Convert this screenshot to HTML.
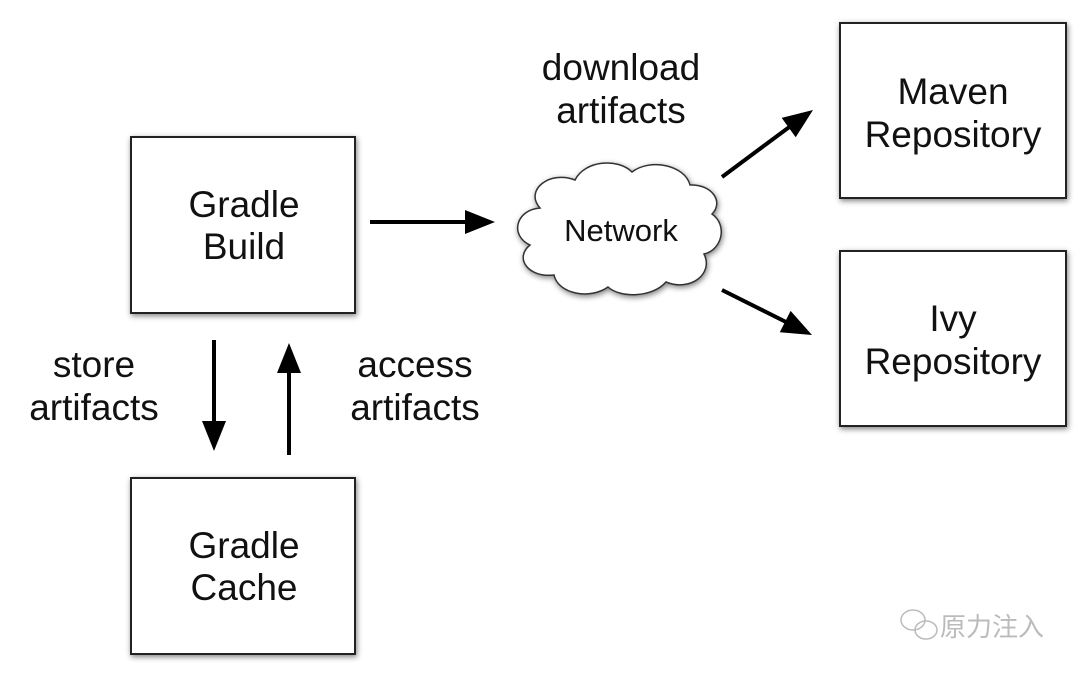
<!DOCTYPE html>
<html><head><meta charset="utf-8"><style>
body{margin:0;background:#fff;width:1080px;height:674px;overflow:hidden;font-family:"Liberation Sans",sans-serif}
</style></head><body>
<svg width="1080" height="674" xmlns="http://www.w3.org/2000/svg" font-family="Liberation Sans, sans-serif">
<defs>
<filter id="sh" x="-20%" y="-20%" width="140%" height="140%"><feGaussianBlur in="SourceAlpha" stdDeviation="3"/><feOffset dx="1" dy="2"/><feComponentTransfer><feFuncA type="linear" slope="0.5"/></feComponentTransfer><feMerge><feMergeNode/><feMergeNode in="SourceGraphic"/></feMerge></filter>
</defs>
<g fill="#fff" stroke="#222" stroke-width="2" filter="url(#sh)">
<rect x="131" y="137" width="224" height="176"/>
<rect x="131" y="478" width="224" height="176"/>
<rect x="840" y="23" width="226" height="175"/>
<rect x="840" y="251" width="226" height="175"/>
</g>
<path filter="url(#sh)" fill="#fff" stroke="#333" stroke-width="1.5" d="M540,208 C524,190 550,170 575,180 C585,160 618,158 632,172 C650,158 685,165 690,185 C712,184 724,202 712,214 C728,225 722,250 704,254 C714,274 690,292 666,282 C652,298 620,298 608,287 C590,300 558,294 554,275 C528,278 514,258 530,245 C510,236 515,210 540,208 z"/>
<text x="621" y="241" font-size="31" text-anchor="middle" fill="#111">Network</text>
<g font-size="37" text-anchor="middle" fill="#111">
<text x="244" y="217">Gradle</text><text x="244" y="259">Build</text>
<text x="244" y="558">Gradle</text><text x="244" y="600">Cache</text>
<text x="953" y="104">Maven</text><text x="953" y="147">Repository</text>
<text x="953" y="331">Ivy</text><text x="953" y="374">Repository</text>
<text x="621" y="80">download</text><text x="621" y="123">artifacts</text>
<text x="94" y="377">store</text><text x="94" y="420">artifacts</text>
<text x="415" y="377">access</text><text x="415" y="420">artifacts</text>
</g>
<g stroke="#000" stroke-width="4" fill="none">
<line x1="370" y1="222" x2="470" y2="222"/>
<line x1="722" y1="177" x2="792" y2="125"/>
<line x1="722" y1="290" x2="790" y2="324"/>
<line x1="214" y1="340" x2="214" y2="425"/>
<line x1="289" y1="455" x2="289" y2="368"/>
</g>
<g fill="#000">
<path d="M495,222 L465,210 L465,234 z"/>
<path d="M813,110 L795.7,137.3 L781.7,117.9 z"/>
<path d="M812,335 L779.8,332.3 L790.6,310.9 z"/>
<path d="M214,451 L202,421 L226,421 z"/>
<path d="M289,343 L277,373 L301,373 z"/>
</g>
<g fill="none" stroke="#bbb" stroke-width="1.5">
<ellipse cx="913" cy="620" rx="12" ry="10"/>
<ellipse cx="926" cy="630" rx="11" ry="9"/>
</g>
<text x="940" y="636" font-size="26" fill="#bbb" font-family="Liberation Sans, Noto Sans CJK SC, sans-serif">原力注入</text>
</svg>
</body></html>
